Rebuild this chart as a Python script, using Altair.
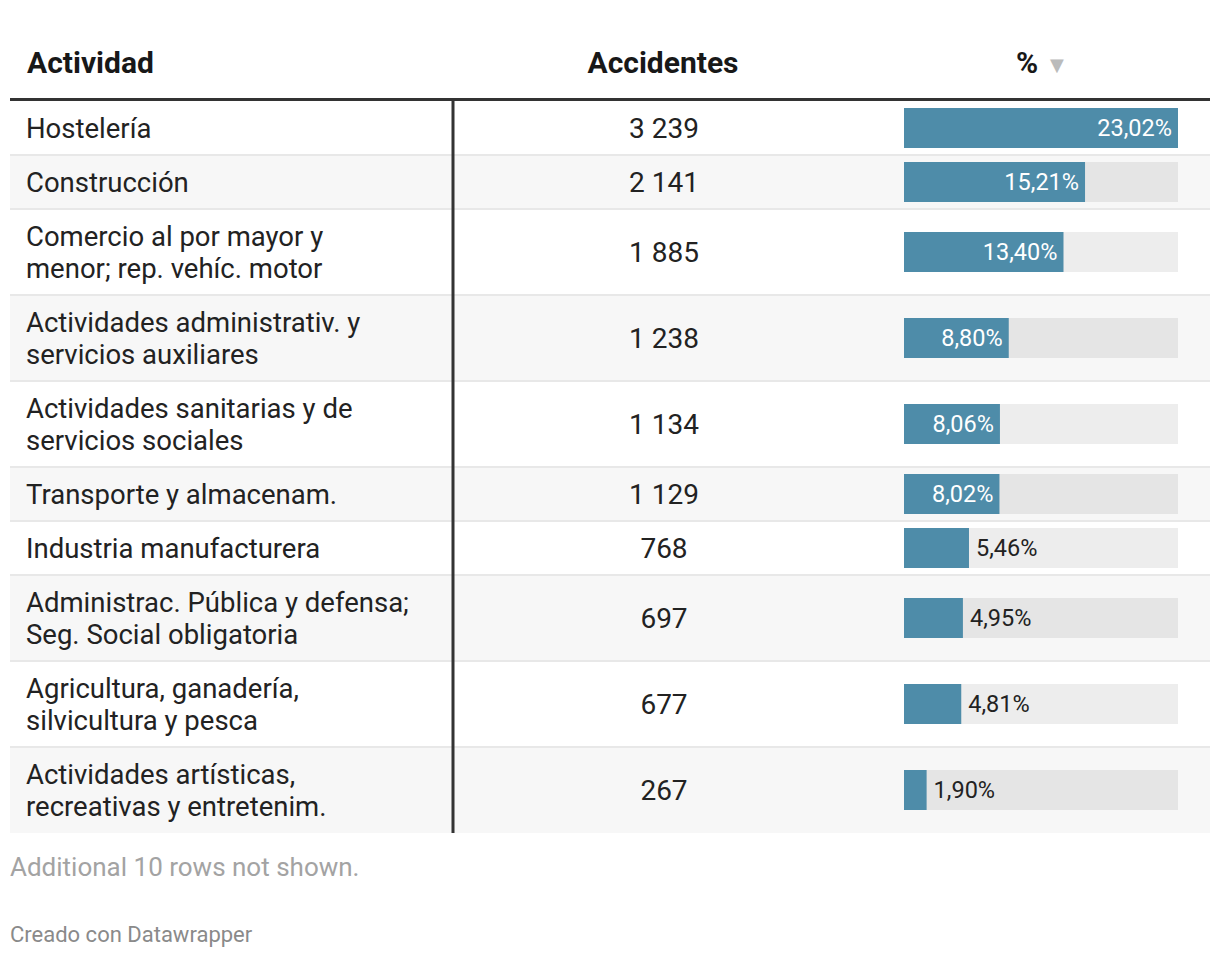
import altair as alt
import pandas as pd

# ---- data ----
actividad = [
    "Hostelería",
    "Construcción",
    "Comercio al por mayor y\nmenor; rep. vehíc. motor",
    "Actividades administrativ. y\nservicios auxiliares",
    "Actividades sanitarias y de\nservicios sociales",
    "Transporte y almacenam.",
    "Industria manufacturera",
    "Administrac. Pública y defensa;\nSeg. Social obligatoria",
    "Agricultura, ganadería,\nsilvicultura y pesca",
    "Actividades artísticas,\nrecreativas y entretenim.",
]
accidentes = [3239, 2141, 1885, 1238, 1134, 1129, 768, 697, 677, 267]
porcentaje = [23.02, 15.21, 13.40, 8.80, 8.06, 8.02, 5.46, 4.95, 4.81, 1.90]
columnas = ["Actividad", "Accidentes", "%"]
nota = "Additional 10 rows not shown."
credito = "Creado con Datawrapper"

# ---- layout derived from the data ----
W, H = 1204, 942
TABLE_TOP = 93
LINE_H = 32
rows = []
y = TABLE_TOP
for i, (a, n, p) in enumerate(zip(actividad, accidentes, porcentaje)):
    nl = a.count("\n") + 1
    h = 22 + LINE_H * nl
    mid = y + h / 2
    rows.append(dict(
        idx=i, actividad=a,
        acc_txt=f"{n:,}".replace(",", " "),
        pct=p, pct_txt=f"{p:.2f}".replace(".", ",") + "%",
        top=y, bottom=y + h, mid=mid, ty=mid - (nl - 1) * LINE_H / 2,
        btop=mid - 20, bbot=mid + 20,
        last=(i == len(actividad) - 1),
    ))
    y += h
TABLE_BOTTOM = y
df = pd.DataFrame(rows)

yscale = alt.Scale(domain=[0, H], range=[0, H])
xscale = alt.Scale(domain=[0, max(porcentaje)], range=[896, 1170])
Y = lambda f: alt.Y(f"{f}:Q", scale=yscale, axis=None)
X = alt.X("pct:Q", scale=xscale, axis=None)

base = alt.Chart(df)
FONT = "Roboto"
TXT = "#222222"

bg = base.mark_rect().encode(
    x=alt.value(2), x2=alt.value(1202), y=Y("top"), y2=alt.Y2("bottom"),
    color=alt.condition(alt.datum.idx % 2 == 1, alt.value("#f7f7f7"), alt.value("#ffffff")),
)
sep = base.transform_filter(~alt.datum.last).mark_rule(color="#e8e8e8", strokeWidth=2).encode(
    x=alt.value(2), x2=alt.value(1202), y=Y("bottom"),
)
act = base.mark_text(align="left", baseline="middle", font=FONT, fontSize=27.5, dy=2, dx=-1,
                     lineBreak="\n", lineHeight=LINE_H, color=TXT).encode(
    x=alt.value(19), y=Y("ty"), text="actividad:N",
)
acc = base.mark_text(align="center", baseline="middle", font=FONT, fontSize=28, dy=2,
                     color=TXT).encode(
    x=alt.value(656), y=Y("mid"), text="acc_txt:N",
)
track = base.mark_rect(color="#000000", opacity=0.07).encode(
    x=alt.value(896), x2=alt.value(1170), y=Y("btop"), y2=alt.Y2("bbot"),
)
bar = base.mark_rect(color="#4e8ca9").encode(
    x=X, x2=alt.value(896), y=Y("btop"), y2=alt.Y2("bbot"),
)
lab_in = base.transform_filter(alt.datum.pct >= 7).mark_text(
    align="right", baseline="middle", dx=-6, dy=1, font=FONT, fontSize=23.5, color="#ffffff").encode(
    x=X, y=Y("mid"), text="pct_txt:N",
)
lab_out = base.transform_filter(alt.datum.pct < 7).mark_text(
    align="left", baseline="middle", dx=7, dy=1, font=FONT, fontSize=23.5, color=TXT).encode(
    x=X, y=Y("mid"), text="pct_txt:N",
)

edge = pd.DataFrame({"t": [TABLE_TOP], "b": [TABLE_BOTTOM]})
divider = alt.Chart(edge).mark_rule(color="#333333", strokeWidth=3).encode(
    x=alt.value(445), y=Y("t"), y2=alt.Y2("b"),
)
hline = alt.Chart(edge).mark_rule(color="#333333", strokeWidth=3).encode(
    x=alt.value(2), x2=alt.value(1202), y=alt.Y("t:Q", scale=yscale, axis=None),
    yOffset=alt.value(-1.5),
)

hdr = pd.DataFrame({"t": columnas, "y": [56, 56, 56]})
HS = 30
h1 = alt.Chart(hdr.iloc[[0]]).mark_text(align="left", baseline="middle", font=FONT,
                                        fontSize=HS, fontWeight="bold", color="#181818").encode(
    x=alt.value(19), y=Y("y"), text="t:N")
h2 = alt.Chart(hdr.iloc[[1]]).mark_text(align="center", baseline="middle", font=FONT,
                                        fontSize=HS, fontWeight="bold", color="#181818").encode(
    x=alt.value(655), y=Y("y"), text="t:N")
h3 = alt.Chart(hdr.iloc[[2]]).mark_text(align="center", baseline="middle", font=FONT,
                                        fontSize=HS, fontWeight="bold", color="#181818").encode(
    x=alt.value(1019), y=Y("y"), text="t:N")
arrow = alt.Chart(pd.DataFrame({"t": ["▼"], "y": [58]})).mark_text(
    align="center", baseline="middle", font="DejaVu Sans", fontSize=18, color="#bbbbbb").encode(
    x=alt.value(1049), y=Y("y"), text="t:N")

foot = pd.DataFrame({"t": [nota, credito], "y": [860, 927]})
f1 = alt.Chart(foot.iloc[[0]]).mark_text(align="left", baseline="middle", font=FONT,
                                         fontSize=26, color="#a3a3a3").encode(
    x=alt.value(2), y=Y("y"), text="t:N")
f2 = alt.Chart(foot.iloc[[1]]).mark_text(align="left", baseline="middle", font=FONT,
                                         fontSize=22, color="#8a8a8a").encode(
    x=alt.value(2), y=Y("y"), text="t:N")

chart = alt.layer(
    bg, sep, track, bar, act, acc, lab_in, lab_out, divider, hline, h1, h2, h3, arrow, f1, f2
).properties(
    width=W, height=H, padding=0, autosize=alt.AutoSizeParams(type="none"),
    background="#ffffff",
).configure_view(stroke=None)

chart.save("out.html", embed_options={"renderer": "svg", "actions": False})
